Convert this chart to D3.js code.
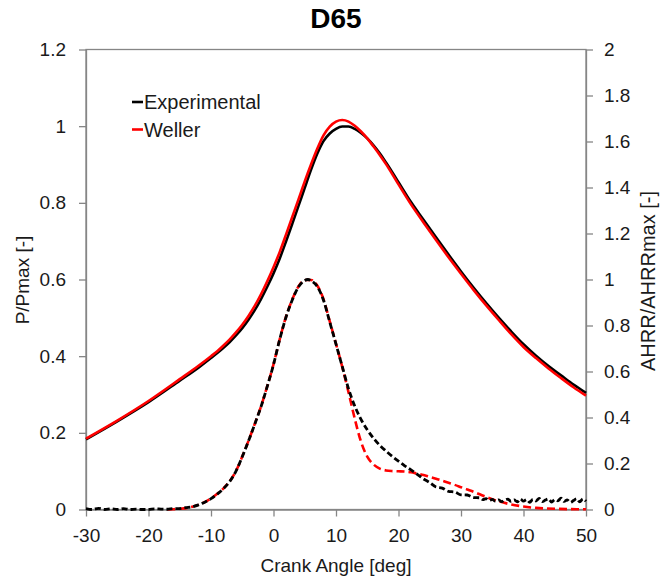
<!DOCTYPE html>
<html>
<head>
<meta charset="utf-8">
<script src="https://cdn.jsdelivr.net/npm/d3@7"></script>
<style>
  body { margin: 0; background: #fff; }
  text { font-family: "Liberation Sans", Arial, sans-serif; }
</style>
</head>
<body>
<div id="chart"></div>
<script>
var width = 662, height = 579;
var plotLeft = 86, plotRight = 586, plotTop = 49.5, plotBottom = 509.5;

// pressure traces, P/Pmax (left axis)
var presAngle = [-30, -25, -20, -15, -12, -10, -9, -8, -7, -6, -5, -4, -3, -2, -1, 0, 1, 2, 3, 4, 5, 6, 7, 8, 9, 10, 11, 12, 13, 14, 15, 16, 17, 18, 19, 20, 22, 24, 26, 28, 30, 32, 34, 36, 38, 40, 42, 44, 46, 48, 50];
var presExp = [0.183, 0.230, 0.280, 0.336, 0.370, 0.395, 0.408, 0.422, 0.437, 0.454, 0.473, 0.495, 0.520, 0.549, 0.581, 0.616, 0.655, 0.699, 0.745, 0.792, 0.839, 0.886, 0.928, 0.961, 0.981, 0.993, 0.999, 0.999, 0.993, 0.982, 0.968, 0.950, 0.929, 0.905, 0.880, 0.854, 0.802, 0.756, 0.710, 0.665, 0.621, 0.579, 0.539, 0.501, 0.465, 0.431, 0.401, 0.374, 0.350, 0.326, 0.304];
var presWeller = [0.185, 0.232, 0.283, 0.340, 0.375, 0.400, 0.413, 0.428, 0.444, 0.462, 0.482, 0.505, 0.531, 0.561, 0.595, 0.632, 0.672, 0.717, 0.763, 0.809, 0.856, 0.900, 0.941, 0.976, 0.999, 1.012, 1.016, 1.012, 1.001, 0.986, 0.968, 0.947, 0.925, 0.901, 0.875, 0.848, 0.796, 0.749, 0.703, 0.658, 0.615, 0.573, 0.533, 0.495, 0.458, 0.424, 0.395, 0.368, 0.343, 0.319, 0.297];

// apparent heat release rate, AHRR/AHRRmax (right axis)
var hrrExpAngle = [-30, -29, -28, -27, -26, -25, -24, -23, -22, -21, -20, -19, -18, -17, -16, -15, -14, -13,
    -12, -11, -10, -9, -8, -7, -6, -5, -4, -3, -2, -1, 0, 1, 2, 3, 4, 5, 5.5, 6, 7, 8, 9, 10, 11, 12,
    13, 14, 15, 16, 17, 18, 19, 20, 21, 22, 23, 24, 25, 26, 27, 28, 29, 30, 31, 32, 33,
    33.5, 34, 34.5, 35, 35.5, 36, 36.5, 37, 37.5, 38, 38.5, 39, 39.5, 40, 40.5, 41, 41.5, 42, 42.5, 43, 43.5, 44, 44.5, 45, 45.5, 46, 46.5, 47, 47.5, 48, 48.5, 49, 49.5, 50];
var hrrExp = [0.004, 0.000, 0.005, 0.000, 0.003, 0.000, 0.004, 0.000, 0.002, 0.000, 0.000, 0.003, 0.002, 0.001, 0.004, 0.004, 0.008, 0.012,
    0.020, 0.032, 0.047, 0.067, 0.091, 0.122, 0.167, 0.229, 0.298, 0.371, 0.447, 0.535, 0.630, 0.740, 0.836, 0.911, 0.968, 0.996, 1.000, 0.995, 0.970, 0.910, 0.815, 0.719, 0.622, 0.525,
    0.450, 0.392, 0.347, 0.310, 0.279, 0.254, 0.231, 0.210, 0.190, 0.172, 0.153, 0.133, 0.117, 0.098, 0.093, 0.079, 0.076, 0.064, 0.063, 0.052, 0.051,
    0.043, 0.047, 0.039, 0.044, 0.036, 0.042, 0.034, 0.041, 0.045, 0.035, 0.042, 0.033, 0.046, 0.036, 0.043, 0.031, 0.044, 0.037, 0.048, 0.034, 0.041, 0.046, 0.032, 0.043, 0.038, 0.049, 0.035, 0.042, 0.031, 0.039, 0.047, 0.033, 0.046, 0.036];
var hrrWellerAngle = [-17, -16, -15, -14, -13, -12, -11, -10, -9, -8, -7, -6, -5, -4, -3, -2, -1, 0, 1, 2, 3, 4, 5, 6, 7, 8, 9, 10, 11, 12,
    13, 14, 15, 16, 17, 18, 19, 20, 21, 22, 23, 24, 25, 26, 27, 28, 29, 30, 31, 32, 33, 34, 35, 36, 38, 40, 42, 45, 50];
var hrrWeller = [0.000, 0.001, 0.003, 0.006, 0.012, 0.020, 0.032, 0.048, 0.068, 0.092, 0.123, 0.168, 0.230, 0.299, 0.372, 0.448, 0.536, 0.631, 0.741, 0.838, 0.913, 0.970, 0.998, 0.998, 0.974, 0.914, 0.818, 0.720, 0.620, 0.510,
    0.395, 0.295, 0.230, 0.196, 0.178, 0.170, 0.167, 0.166, 0.165, 0.162, 0.156, 0.150, 0.142, 0.134, 0.125, 0.116, 0.107, 0.097, 0.087, 0.077, 0.066, 0.055, 0.045, 0.036, 0.022, 0.013, 0.007, 0.003, 0.001];

var xTicks = [-30, -20, -10, 0, 10, 20, 30, 40, 50];
var yLeftTicks = [0, 0.2, 0.4, 0.6, 0.8, 1, 1.2];
var yRightTicks = [0, 0.2, 0.4, 0.6, 0.8, 1, 1.2, 1.4, 1.6, 1.8, 2];

var svg = d3.select("#chart").append("svg")
    .attr("width", width)
    .attr("height", height);

var xScale = d3.scaleLinear().domain([-30, 50]).range([plotLeft, plotRight]);
var yLeft = d3.scaleLinear().domain([0, 1.2]).range([plotBottom, plotTop]);
var yRight = d3.scaleLinear().domain([0, 2]).range([plotBottom, plotTop]);

var axisColor = "#868686";
var plainFormat = function(d) { return String(d); };

// plot frame
svg.append("rect")
    .attr("x", plotLeft)
    .attr("y", plotTop)
    .attr("width", plotRight - plotLeft)
    .attr("height", plotBottom - plotTop)
    .attr("fill", "none")
    .attr("stroke", axisColor)
    .attr("stroke-width", 1.3);

var styleAxis = function(g) {
    g.select(".domain").attr("stroke", axisColor).attr("stroke-width", 1.3);
    g.selectAll(".tick line").attr("stroke", axisColor).attr("stroke-width", 1.3);
    g.selectAll(".tick text")
        .attr("fill", "#1a1a1a")
        .attr("font-size", null)
        .attr("font-family", null)
        .style("font-size", "19px")
        .style("font-family", "'Liberation Sans', Arial, sans-serif");
};

svg.append("g")
    .attr("transform", "translate(0," + plotBottom + ")")
    .call(d3.axisBottom(xScale).tickValues(xTicks).tickSize(7).tickSizeOuter(0).tickPadding(12)
        .tickFormat(plainFormat))
    .call(styleAxis);

svg.append("g")
    .attr("transform", "translate(" + plotLeft + ",0)")
    .call(d3.axisLeft(yLeft).tickValues(yLeftTicks).tickSize(7).tickSizeOuter(0).tickPadding(13)
        .tickFormat(plainFormat))
    .call(styleAxis);

svg.append("g")
    .attr("transform", "translate(" + plotRight + ",0)")
    .call(d3.axisRight(yRight).tickValues(yRightTicks).tickSize(7).tickSizeOuter(0).tickPadding(11)
        .tickFormat(plainFormat))
    .call(styleAxis);

var zip = function(xs, ys) {
    return xs.map(function(x, i) { return [x, ys[i]]; });
};

var presLine = d3.line()
    .x(function(d) { return xScale(d[0]); })
    .y(function(d) { return yLeft(d[1]); })
    .curve(d3.curveMonotoneX);

var hrrLine = d3.line()
    .x(function(d) { return xScale(d[0]); })
    .y(function(d) { return yRight(d[1]); })
    .curve(d3.curveMonotoneX);

var plot = svg.append("g");

plot.append("path")
    .datum(zip(presAngle, presExp))
    .attr("d", presLine)
    .attr("fill", "none")
    .attr("stroke", "#000")
    .attr("stroke-width", 2.6);

plot.append("path")
    .datum(zip(presAngle, presWeller))
    .attr("d", presLine)
    .attr("fill", "none")
    .attr("stroke", "#ff0000")
    .attr("stroke-width", 2.6);

plot.append("path")
    .datum(zip(hrrWellerAngle, hrrWeller))
    .attr("d", hrrLine)
    .attr("fill", "none")
    .attr("stroke", "#ff0000")
    .attr("stroke-width", 2.6)
    .attr("stroke-dasharray", "8,4");

plot.append("path")
    .datum(zip(hrrExpAngle, hrrExp))
    .attr("d", hrrLine)
    .attr("fill", "none")
    .attr("stroke", "#000")
    .attr("stroke-width", 2.8)
    .attr("stroke-dasharray", "6,3");

// title
svg.append("text")
    .attr("x", 336)
    .attr("y", 28)
    .attr("text-anchor", "middle")
    .style("font-size", "28px")
    .style("font-weight", "bold")
    .text("D65");

// axis titles
svg.append("text")
    .attr("x", 336)
    .attr("y", 572)
    .attr("text-anchor", "middle")
    .attr("fill", "#1a1a1a")
    .style("font-size", "19px")
    .text("Crank Angle [deg]");

svg.append("text")
    .attr("transform", "translate(29,280) rotate(-90)")
    .attr("text-anchor", "middle")
    .attr("fill", "#1a1a1a")
    .style("font-size", "19px")
    .text("P/Pmax [-]");

svg.append("text")
    .attr("transform", "translate(655,281) rotate(-90)")
    .attr("text-anchor", "middle")
    .attr("fill", "#1a1a1a")
    .style("font-size", "20px")
    .text("AHRR/AHRRmax [-]");

// legend
var legendItems = [
    { name: "Experimental", color: "#000" },
    { name: "Weller", color: "#ff0000" }
];

var legend = svg.selectAll(".legendItem")
    .data(legendItems)
    .enter().append("g")
    .attr("class", "legendItem")
    .attr("transform", function(d, i) { return "translate(132," + (102 + i * 27.5) + ")"; });

legend.append("line")
    .attr("x1", 0)
    .attr("x2", 11)
    .attr("y1", 0)
    .attr("y2", 0)
    .attr("stroke", function(d) { return d.color; })
    .attr("stroke-width", 2.6);

legend.append("text")
    .attr("x", 12)
    .attr("y", 7)
    .attr("fill", "#1a1a1a")
    .style("font-size", "20px")
    .text(function(d) { return d.name; });
</script>
</body>
</html>
